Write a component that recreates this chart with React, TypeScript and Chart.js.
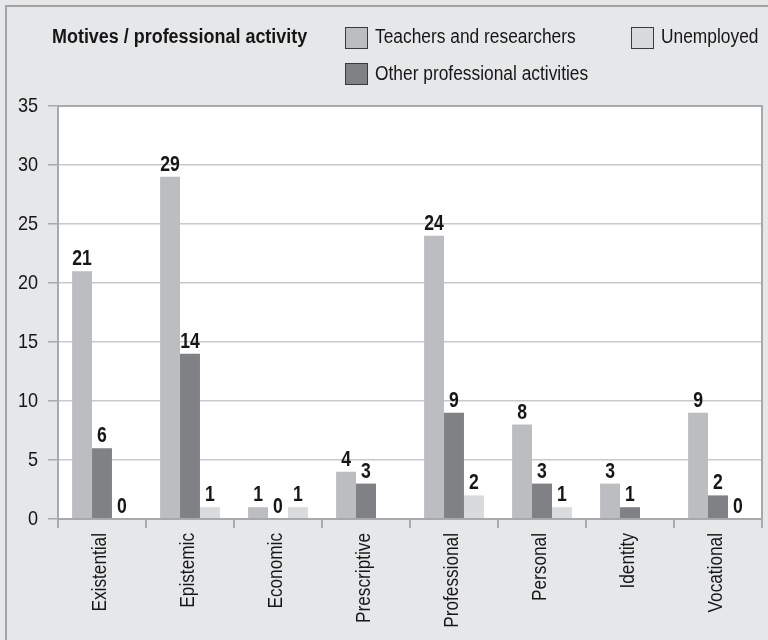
import React, { useEffect, useRef } from "react";
import { Chart, registerables } from "chart.js";

Chart.register(...registerables);

const categories = ["Existential", "Epistemic", "Economic", "Prescriptive", "Professional", "Personal", "Identity", "Vocational"];
const teachers: (number | null)[] = [21, 29, 1, 4, 24, 8, 3, 9];
const otherActivities: (number | null)[] = [6, 14, 0, 3, 9, 3, 1, 2];
const unemployed: (number | null)[] = [0, 1, 1, null, 2, 1, null, 0];
const seriesNames = ["Teachers and researchers", "Other professional activities", "Unemployed"];
const seriesColors = ["#bcbdc0", "#808184", "#d9dadb"];
const legendTitle = "Motives / professional activity";
const yTicks = { min: 0, max: 35, step: 5 };

const FONT = "'Liberation Sans', Arial, sans-serif";
const TEXT = "#161616";

function drawText(ctx: any, text: string, x: number, y: number, font: string, sx: number, align: string, baseline: string, rot = 0) {
  ctx.save();
  ctx.translate(x, y);
  if (rot) ctx.rotate(rot);
  ctx.scale(sx, 1);
  ctx.font = font;
  ctx.textAlign = align;
  ctx.textBaseline = baseline;
  ctx.fillStyle = TEXT;
  ctx.fillText(text, 0, 0);
  ctx.restore();
}

const framePlugin = {
  id: "frame",
  beforeDraw(chart: any) {
    const { ctx, width, height, chartArea } = chart;
    ctx.save();
    ctx.fillStyle = "#e6e7e8";
    ctx.fillRect(0, 0, width, height);
    ctx.strokeStyle = "#a3a3a3";
    ctx.lineWidth = 2;
    ctx.beginPath();
    ctx.moveTo(6, height);
    ctx.lineTo(6, 6);
    ctx.lineTo(width, 6);
    ctx.stroke();
    ctx.fillStyle = "#ffffff";
    ctx.fillRect(chartArea.left, chartArea.top, chartArea.right - chartArea.left, chartArea.bottom - chartArea.top);
    ctx.restore();
  },
  afterDatasetsDraw(chart: any) {
    const { ctx, chartArea } = chart;
    ctx.save();
    ctx.strokeStyle = "#a7a9ac";
    ctx.lineWidth = 2;
    ctx.strokeRect(chartArea.left, chartArea.top, chartArea.right - chartArea.left, chartArea.bottom - chartArea.top);
    ctx.restore();
    chart.data.datasets.forEach((ds: any, i: number) => {
      const meta = chart.getDatasetMeta(i);
      meta.data.forEach((el: any, j: number) => {
        const v = ds.data[j];
        if (v === null || v === undefined) return;
        drawText(ctx, String(v), el.x, el.y - 6, `bold 22px ${FONT}`, 0.8, "center", "alphabetic");
      });
    });
  },
  afterDraw(chart: any) {
    const { ctx } = chart;
    const ys = chart.scales.y;
    ys.ticks.forEach((t: any, i: number) => {
      drawText(ctx, String(t.value), 38, ys.getPixelForTick(i), `21px ${FONT}`, 0.86, "right", "middle");
    });
    const xs = chart.scales.x;
    xs.ticks.forEach((t: any, i: number) => {
      const label = categories[t.value] ?? String(t.label);
      drawText(ctx, label, xs.getPixelForTick(i) - 2, chart.chartArea.bottom + 14, `20.5px ${FONT}`, 0.84, "right", "middle", -Math.PI / 2);
    });
    drawText(ctx, legendTitle, 52, 43, `bold 19.5px ${FONT}`, 0.92, "left", "alphabetic");
    const pos = [
      { x: 345, y: 27, base: 43 },
      { x: 345, y: 63, base: 80 },
      { x: 631, y: 27, base: 43 },
    ];
    chart.data.datasets.forEach((ds: any, i: number) => {
      const p = pos[i];
      ctx.save();
      ctx.fillStyle = ds.backgroundColor;
      ctx.fillRect(p.x, p.y, 22, 21);
      ctx.strokeStyle = "#3a3a3a";
      ctx.lineWidth = 1;
      ctx.strokeRect(p.x + 0.5, p.y + 0.5, 22, 21);
      ctx.restore();
      drawText(ctx, ds.label, p.x + 30, p.base, `19.5px ${FONT}`, 0.89, "left", "alphabetic");
    });
  },
};

export default function App() {
  const ref = useRef<HTMLCanvasElement | null>(null);
  useEffect(() => {
    document.body.style.margin = "0";
    const canvas = ref.current;
    if (!canvas) return;
    const chart = new Chart(canvas, {
      type: "bar",
      data: {
        labels: categories,
        datasets: [
          { label: seriesNames[0], data: teachers, backgroundColor: seriesColors[0] },
          { label: seriesNames[1], data: otherActivities, backgroundColor: seriesColors[1] },
          { label: seriesNames[2], data: unemployed, backgroundColor: seriesColors[2] },
        ],
      },
      options: {
        animation: false,
        responsive: false,
        devicePixelRatio: 1,
        layout: { padding: { top: 106, right: 6, left: 0, bottom: 0 } },
        plugins: { legend: { display: false }, tooltip: { enabled: false } },
        datasets: { bar: { categoryPercentage: 0.68, barPercentage: 1 } },
        scales: {
          x: {
            grid: { display: true, drawOnChartArea: false, offset: true, tickLength: 9, tickColor: "#a7a9ac", lineWidth: 2 },
            border: { display: false },
            ticks: { minRotation: 90, maxRotation: 90, padding: 5, color: "rgba(0,0,0,0)", font: { family: FONT, size: 18 } },
            afterFit(scale: any) { scale.height = 121; },
          },
          y: {
            min: yTicks.min,
            max: yTicks.max,
            grid: { color: "#c8c9cb", lineWidth: 1.5, tickLength: 10, tickColor: "#a7a9ac" },
            border: { display: false },
            ticks: { stepSize: yTicks.step, padding: 9, color: "rgba(0,0,0,0)", font: { family: FONT, size: 19 } },
            afterFit(scale: any) { scale.width = 58; },
          },
        },
      },
      plugins: [framePlugin],
    });
    return () => chart.destroy();
  }, []);
  return (
    <div style={{ position: "absolute", left: 0, top: 0, width: 768, height: 640 }}>
      <canvas ref={ref} width={768} height={640} style={{ width: 768, height: 640, display: "block" }} />
    </div>
  );
}
